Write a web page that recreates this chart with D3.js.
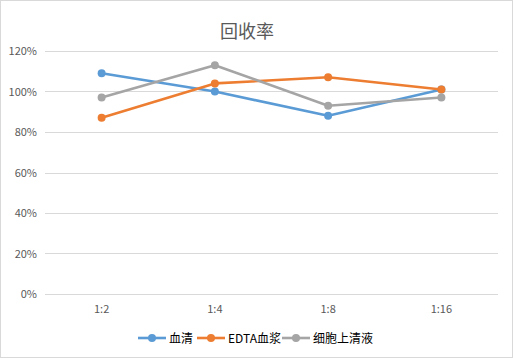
<!DOCTYPE html>
<html><head><meta charset="utf-8">
<script src="https://cdn.jsdelivr.net/npm/d3@7"></script>
<style>html,body{margin:0;padding:0;background:#fff;}svg{display:block;}</style>
</head><body>
<svg id="c" width="513" height="358"></svg>
<script>
const categories = ["1:2", "1:4", "1:8", "1:16"];
const seriesNames = ["血清", "EDTA血浆", "细胞上清液"];
const serum = [1.09, 1.00, 0.88, 1.01];
const edta = [0.87, 1.04, 1.07, 1.01];
const supernatant = [0.97, 1.13, 0.93, 0.97];
const yTicks = [0, 0.2, 0.4, 0.6, 0.8, 1.0, 1.2];
const colors = ["#5B9BD5", "#ED7D31", "#A5A5A5"];
const title = "回收率";

const series = [serum, edta, supernatant];
const svg = d3.select("#c");
const W = 513, H = 358;
const font = "'Noto Sans CJK SC', 'Noto Sans', sans-serif";

svg.append("rect").attr("x", 0.5).attr("y", 0.5).attr("width", W - 1).attr("height", H - 1)
  .attr("fill", "#fff").attr("stroke", "#D9D9D9");

const x = d3.scaleBand().domain(categories).range([45, 498]);
const y = d3.scaleLinear().domain([0, 1.2]).range([294, 51]);

const grid = svg.append("g");
grid.selectAll("line").data(yTicks).join("line")
  .attr("x1", 45).attr("x2", 498)
  .attr("y1", d => Math.round(y(d)) + 0.5).attr("y2", d => Math.round(y(d)) + 0.5)
  .attr("stroke", "#D9D9D9").attr("stroke-width", 1);

const yAxis = svg.append("g").attr("transform", "translate(45,0)")
  .call(d3.axisLeft(y).tickValues(yTicks).tickFormat(d3.format(".0%")).tickSize(0).tickPadding(8));
yAxis.select(".domain").remove();
yAxis.selectAll("text").attr("font-family", font).attr("font-size", 11).attr("fill", "#595959");

const xAxis = svg.append("g").attr("transform", "translate(0,294)")
  .call(d3.axisBottom(x).tickSize(0).tickPadding(11));
xAxis.select(".domain").remove();
xAxis.selectAll("text").attr("font-family", font).attr("font-size", 11).attr("fill", "#595959");

const cx = c => x(c) + x.bandwidth() / 2;
const line = d3.line().x((d, i) => cx(categories[i])).y(d => y(d));

series.forEach((s, k) => {
  const g = svg.append("g");
  g.append("path").datum(s).attr("d", line).attr("fill", "none")
    .attr("stroke", colors[k]).attr("stroke-width", 2.6).attr("stroke-linejoin", "round").attr("stroke-linecap", "round");
  g.selectAll("circle").data(s).join("circle")
    .attr("cx", (d, i) => cx(categories[i])).attr("cy", d => y(d)).attr("r", 4)
    .attr("fill", colors[k]);
});

svg.append("text").attr("x", 247).attr("y", 38).attr("text-anchor", "middle")
  .attr("font-family", font).attr("font-size", 18).attr("fill", "#595959").text(title);

const legendX = [138, 197, 282];
const lg = svg.append("g");
seriesNames.forEach((n, k) => {
  const g = lg.append("g").attr("transform", `translate(${legendX[k]},338)`);
  g.append("line").attr("x1", 0).attr("x2", 28).attr("y1", 0).attr("y2", 0)
    .attr("stroke", colors[k]).attr("stroke-width", 2.6);
  g.append("circle").attr("cx", 14).attr("cy", 0).attr("r", 4).attr("fill", colors[k]);
  g.append("text").attr("x", 31).attr("y", 4.5).attr("font-family", font).attr("font-size", 12)
    .attr("fill", "#000").text(n);
});
</script>
</body></html>
